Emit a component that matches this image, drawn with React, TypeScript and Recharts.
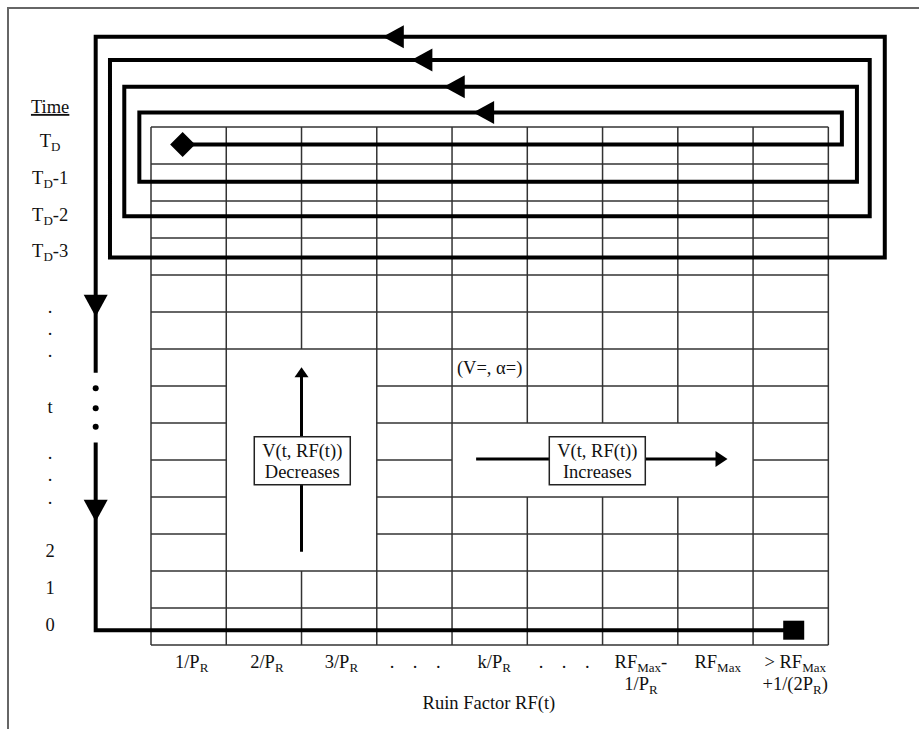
import React from 'react';
import { ComposedChart, XAxis, YAxis, Line, Scatter, ReferenceLine } from 'recharts';

const W = 919;
const H = 729;
// grid geometry: x is measured in columns, y in rows (0 = top row)
const GRID_LEFT = 151;
const GRID_TOP = 127;
const COL_W = 75.26;
const ROW_H = 37;
const COLS = 9;
const ROWS = 14;

const FONT = '"Liberation Serif", "Times New Roman", serif';
const FS = 18.5;
const SUB_FS = 13;
const INK = '#111';

// cells merged into empty areas
const BLANKS = [
  { x0: 1, x1: 3, y0: 6, y1: 12 },
  { x0: 4, x1: 8, y0: 8, y1: 10 },
];

// backward-induction spiral, from T_D outward
const SPIRAL = [
  { x: 0.42, y: 0.47 },
  { x: 9.18, y: 0.47 },
  { x: 9.18, y: -0.39 },
  { x: -0.155, y: -0.39 },
  { x: -0.155, y: 1.48 },
  { x: 9.38, y: 1.48 },
  { x: 9.38, y: -1.09 },
  { x: -0.355, y: -1.09 },
  { x: -0.355, y: 2.41 },
  { x: 9.55, y: 2.41 },
  { x: 9.55, y: -1.81 },
  { x: -0.545, y: -1.81 },
  { x: -0.545, y: 3.53 },
  { x: 9.75, y: 3.53 },
  { x: 9.75, y: -2.44 },
  { x: -0.735, y: -2.44 },
  { x: -0.735, y: 6.64 },
];
const TAIL = [
  { x: -0.735, y: 8.53 },
  { x: -0.735, y: 13.6 },
  { x: 8.54, y: 13.6 },
];
const PATH_DOTS = [
  { x: -0.735, y: 7.06 },
  { x: -0.735, y: 7.6 },
  { x: -0.735, y: 8.1 },
];
const LEFT_HEADS = [
  { x: 3.08, y: -2.44 },
  { x: 3.46, y: -1.81 },
  { x: 3.89, y: -1.09 },
  { x: 4.28, y: -0.39 },
];
const DOWN_HEADS = [
  { x: -0.735, y: 5.13 },
  { x: -0.735, y: 10.67 },
];
const START = [{ x: 0.42, y: 0.47 }];
const END = [{ x: 8.54, y: 13.6 }];

const DEC_SHAFT = [
  { x: 2.0, y: 11.48 },
  { x: 2.0, y: 6.62 },
];
const INC_SHAFT = [
  { x: 4.32, y: 8.97 },
  { x: 7.55, y: 8.97 },
];
const UP_HEAD = [{ x: 2.0, y: 6.49 }];
const RIGHT_HEAD = [{ x: 7.66, y: 8.97 }];

const BOXES = [
  { x: 2.01, y: 9.02, lines: ['V(t, RF(t))', 'Decreases'] },
  { x: 5.93, y: 9.02, lines: ['V(t, RF(t))', 'Increases'] },
];

// time axis labels (y = baseline, in rows)
const TIME_X = -1.34;
const TIME_LABELS = [
  { y: -0.38, text: 'Time', underline: true },
  { y: 0.54, text: 'T_{D}' },
  { y: 1.54, text: 'T_{D}-1' },
  { y: 2.53, text: 'T_{D}-2' },
  { y: 3.52, text: 'T_{D}-3' },
  { y: 5.04, text: '.' },
  { y: 5.61, text: '.' },
  { y: 6.22, text: '.' },
  { y: 7.73, text: 't' },
  { y: 8.96, text: '.' },
  { y: 9.58, text: '.' },
  { y: 10.18, text: '.' },
  { y: 11.62, text: '2' },
  { y: 12.62, text: '1' },
  { y: 13.62, text: '0' },
];

// ruin factor categories (x = column centre)
const RF_Y = 14.62;
const RF_LABELS = [
  { x: 0.54, lines: ['1/P_{R}'] },
  { x: 1.54, lines: ['2/P_{R}'] },
  { x: 2.53, lines: ['3/P_{R}'] },
  { x: 3.51, lines: ['.    .    .'] },
  { x: 4.56, lines: ['k/P_{R}'] },
  { x: 5.49, lines: ['.    .    .'] },
  { x: 6.51, lines: ['RF_{Max}-', '1/P_{R}'] },
  { x: 7.53, lines: ['RF_{Max}'] },
  { x: 8.56, lines: ['> RF_{Max}', '+1/(2P_{R})'] },
];
const AXIS_TITLE = [{ x: 4.49, y: 15.73, text: 'Ruin Factor RF(t)' }];
const CELL_NOTE = [{ x: 4.5, y: 6.68, text: '(V=, α=)' }];

const X_DOMAIN = [-GRID_LEFT / COL_W, (W - GRID_LEFT) / COL_W];
const Y_DOMAIN = [-GRID_TOP / ROW_H, (H - GRID_TOP) / ROW_H];

function isHiddenV(i: number, j: number) {
  return BLANKS.some(b => b.x0 < i && i < b.x1 && b.y0 <= j && j + 1 <= b.y1);
}
function isHiddenH(j: number, i: number) {
  return BLANKS.some(b => b.y0 < j && j < b.y1 && b.x0 <= i && i + 1 <= b.x1);
}

function gridSegments() {
  const segs: { x: number; y: number }[][] = [];
  for (let i = 0; i <= COLS; i++) {
    let start: number | null = null;
    for (let j = 0; j <= ROWS; j++) {
      const vis = j < ROWS && !isHiddenV(i, j);
      if (vis && start === null) start = j;
      if (!vis && start !== null) {
        segs.push([{ x: i, y: start }, { x: i, y: j }]);
        start = null;
      }
    }
  }
  for (let j = 0; j <= ROWS; j++) {
    let start: number | null = null;
    for (let i = 0; i <= COLS; i++) {
      const vis = i < COLS && !isHiddenH(j, i);
      if (vis && start === null) start = i;
      if (!vis && start !== null) {
        segs.push([{ x: start, y: j }, { x: i, y: j }]);
        start = null;
      }
    }
  }
  return segs;
}

function rich(s: string) {
  const parts = s.split(/(_\{[^}]*\})/).filter(p => p !== '');
  let sub = false;
  return parts.map((p, i) => {
    if (p.startsWith('_{')) {
      sub = true;
      return <tspan key={i} fontSize={SUB_FS} dy={4}>{p.slice(2, -1)}</tspan>;
    }
    const dy = sub ? -4 : 0;
    sub = false;
    return <tspan key={i} dy={dy}>{p}</tspan>;
  });
}

const txt = { fontFamily: FONT, fontSize: FS, fill: INK, textAnchor: 'middle' as const, style: { whiteSpace: 'pre' as const } };

const TextShape = (p: any) => (
  <text x={p.cx} y={p.cy} {...txt} textDecoration={p.payload.underline ? 'underline' : undefined}>
    {rich(p.payload.text)}
  </text>
);

const MultiTextShape = (p: any) => (
  <g>
    {p.payload.lines.map((l: string, i: number) => (
      <text key={i} x={p.cx} y={p.cy + i * 22} {...txt}>{rich(l)}</text>
    ))}
  </g>
);

const BoxShape = (p: any) => (
  <g>
    <rect x={p.cx - 48} y={p.cy - 24} width={96} height={48} fill="#fff" stroke="#222" strokeWidth={1.5} />
    <text x={p.cx} y={p.cy - 4} {...txt}>{p.payload.lines[0]}</text>
    <text x={p.cx} y={p.cy + 17} {...txt}>{p.payload.lines[1]}</text>
  </g>
);

const LeftHead = (p: any) => (
  <polygon points={`${p.cx},${p.cy} ${p.cx + 21},${p.cy - 11.5} ${p.cx + 21},${p.cy + 11.5}`} fill="#000" />
);
const DownHead = (p: any) => (
  <polygon points={`${p.cx},${p.cy} ${p.cx - 12},${p.cy - 22} ${p.cx + 12},${p.cy - 22}`} fill="#000" />
);
const UpHead = (p: any) => (
  <polygon points={`${p.cx},${p.cy} ${p.cx - 7},${p.cy + 10} ${p.cx + 7},${p.cy + 10}`} fill="#000" />
);
const RightHead = (p: any) => (
  <polygon points={`${p.cx},${p.cy} ${p.cx - 12},${p.cy - 8} ${p.cx - 12},${p.cy + 8}`} fill="#000" />
);
const Diamond = (p: any) => (
  <polygon points={`${p.cx},${p.cy - 12.5} ${p.cx + 12.5},${p.cy} ${p.cx},${p.cy + 12.5} ${p.cx - 12.5},${p.cy}`} fill="#000" />
);
const Square = (p: any) => <rect x={p.cx - 10.5} y={p.cy - 9.5} width={21} height={19} fill="#000" />;
const Dot = (p: any) => <circle cx={p.cx} cy={p.cy} r={3} fill="#000" />;

export default function App() {
  const timeData = TIME_LABELS.map(d => ({ ...d, x: TIME_X }));
  const rfData = RF_LABELS.map(d => ({ ...d, y: RF_Y }));
  const segs = gridSegments();

  return (
    <div style={{ position: 'absolute', left: 0, top: 0, width: W, height: H, background: '#fff' }}>
      <div style={{ position: 'absolute', left: 7, top: 7, right: 0, bottom: 0, borderTop: '2px solid #666', borderLeft: '2px solid #666' }} />
      <ComposedChart width={W} height={H} margin={{ top: 0, right: 0, bottom: 0, left: 0 }} style={{ position: 'absolute', left: 0, top: 0 }}>
        <XAxis type="number" dataKey="x" domain={X_DOMAIN} allowDataOverflow hide />
        <YAxis type="number" dataKey="y" domain={Y_DOMAIN} allowDataOverflow reversed hide />

        {segs.map((s, i) => (
          <ReferenceLine key={i} segment={s} stroke="#333" strokeWidth={1.5} ifOverflow="visible" />
        ))}

        <Line data={SPIRAL} dataKey="y" stroke="#000" strokeWidth={4} dot={false} activeDot={false} isAnimationActive={false} type="linear" />
        <Line data={TAIL} dataKey="y" stroke="#000" strokeWidth={4} dot={false} activeDot={false} isAnimationActive={false} type="linear" />
        <Line data={DEC_SHAFT} dataKey="y" stroke="#000" strokeWidth={3} dot={false} activeDot={false} isAnimationActive={false} type="linear" />
        <Line data={INC_SHAFT} dataKey="y" stroke="#000" strokeWidth={3} dot={false} activeDot={false} isAnimationActive={false} type="linear" />

        <Scatter data={LEFT_HEADS} shape={LeftHead} isAnimationActive={false} />
        <Scatter data={DOWN_HEADS} shape={DownHead} isAnimationActive={false} />
        <Scatter data={UP_HEAD} shape={UpHead} isAnimationActive={false} />
        <Scatter data={RIGHT_HEAD} shape={RightHead} isAnimationActive={false} />
        <Scatter data={PATH_DOTS} shape={Dot} isAnimationActive={false} />
        <Scatter data={START} shape={Diamond} isAnimationActive={false} />
        <Scatter data={END} shape={Square} isAnimationActive={false} />

        <Scatter data={timeData} shape={TextShape} isAnimationActive={false} />
        <Scatter data={rfData} shape={MultiTextShape} isAnimationActive={false} />
        <Scatter data={AXIS_TITLE} shape={TextShape} isAnimationActive={false} />
        <Scatter data={CELL_NOTE} shape={TextShape} isAnimationActive={false} />
        <Scatter data={BOXES} shape={BoxShape} isAnimationActive={false} />
      </ComposedChart>
    </div>
  );
}
